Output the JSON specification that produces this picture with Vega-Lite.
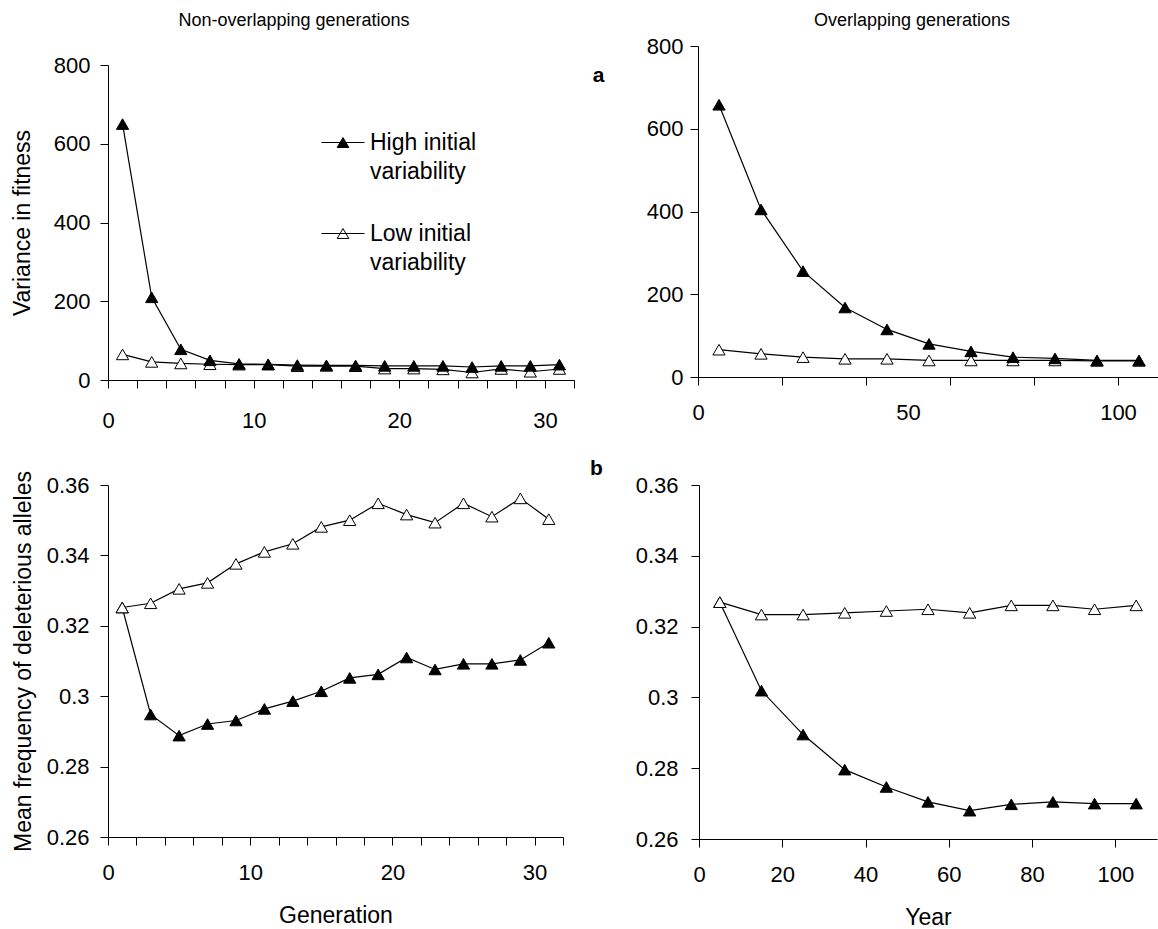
{
  "$schema": "https://vega.github.io/schema/vega-lite/v6.json",
  "background": "white",
  "padding": {"left": 11, "top": 12, "right": 0, "bottom": 0},
  "config": {
    "font": "Liberation Sans",
    "view": {"stroke": null},
    "axis": {
      "grid": false,
      "domainColor": "black",
      "tickColor": "black",
      "labelColor": "black",
      "titleColor": "black",
      "labelFont": "Liberation Sans",
      "titleFont": "Liberation Sans",
      "labelFontSize": 22,
      "titleFontSize": 23,
      "titleFontWeight": "normal",
      "tickSize": 8,
      "domainWidth": 1,
      "tickWidth": 1
    },
    "title": {"fontSize": 18, "fontWeight": "normal", "font": "Liberation Sans", "color": "black"},
    "style": {"guide-label": {"lineHeight": 29}}
  },
  "datasets": {
    "tl": [
      {"x": 1, "value": 65, "series": "Low initial variability"},
      {"x": 3, "value": 46, "series": "Low initial variability"},
      {"x": 5, "value": 42, "series": "Low initial variability"},
      {"x": 7, "value": 40, "series": "Low initial variability"},
      {"x": 9, "value": 39, "series": "Low initial variability"},
      {"x": 11, "value": 39, "series": "Low initial variability"},
      {"x": 13, "value": 35, "series": "Low initial variability"},
      {"x": 15, "value": 36, "series": "Low initial variability"},
      {"x": 17, "value": 35, "series": "Low initial variability"},
      {"x": 19, "value": 29, "series": "Low initial variability"},
      {"x": 21, "value": 29, "series": "Low initial variability"},
      {"x": 23, "value": 27, "series": "Low initial variability"},
      {"x": 25, "value": 19, "series": "Low initial variability"},
      {"x": 27, "value": 28, "series": "Low initial variability"},
      {"x": 29, "value": 21, "series": "Low initial variability"},
      {"x": 31, "value": 28, "series": "Low initial variability"},
      {"x": 1, "value": 650, "series": "High initial variability"},
      {"x": 3, "value": 210, "series": "High initial variability"},
      {"x": 5, "value": 78, "series": "High initial variability"},
      {"x": 7, "value": 50, "series": "High initial variability"},
      {"x": 9, "value": 41, "series": "High initial variability"},
      {"x": 11, "value": 40, "series": "High initial variability"},
      {"x": 13, "value": 38, "series": "High initial variability"},
      {"x": 15, "value": 37, "series": "High initial variability"},
      {"x": 17, "value": 37, "series": "High initial variability"},
      {"x": 19, "value": 36, "series": "High initial variability"},
      {"x": 21, "value": 36, "series": "High initial variability"},
      {"x": 23, "value": 36, "series": "High initial variability"},
      {"x": 25, "value": 33, "series": "High initial variability"},
      {"x": 27, "value": 36, "series": "High initial variability"},
      {"x": 29, "value": 36, "series": "High initial variability"},
      {"x": 31, "value": 39, "series": "High initial variability"}
    ],
    "tr": [
      {"x": 5, "value": 66, "series": "Low initial variability"},
      {"x": 15, "value": 56, "series": "Low initial variability"},
      {"x": 25, "value": 48, "series": "Low initial variability"},
      {"x": 35, "value": 44, "series": "Low initial variability"},
      {"x": 45, "value": 44, "series": "Low initial variability"},
      {"x": 55, "value": 40, "series": "Low initial variability"},
      {"x": 65, "value": 40, "series": "Low initial variability"},
      {"x": 75, "value": 40, "series": "Low initial variability"},
      {"x": 85, "value": 40, "series": "Low initial variability"},
      {"x": 95, "value": 39, "series": "Low initial variability"},
      {"x": 105, "value": 39, "series": "Low initial variability"},
      {"x": 5, "value": 658, "series": "High initial variability"},
      {"x": 15, "value": 405, "series": "High initial variability"},
      {"x": 25, "value": 256, "series": "High initial variability"},
      {"x": 35, "value": 168, "series": "High initial variability"},
      {"x": 45, "value": 115, "series": "High initial variability"},
      {"x": 55, "value": 80, "series": "High initial variability"},
      {"x": 65, "value": 62, "series": "High initial variability"},
      {"x": 75, "value": 48, "series": "High initial variability"},
      {"x": 85, "value": 45, "series": "High initial variability"},
      {"x": 95, "value": 40, "series": "High initial variability"},
      {"x": 105, "value": 40, "series": "High initial variability"}
    ],
    "bl": [
      {"x": 1, "value": 0.3252, "series": "High initial variability"},
      {"x": 3, "value": 0.2948, "series": "High initial variability"},
      {"x": 5, "value": 0.2888, "series": "High initial variability"},
      {"x": 7, "value": 0.2921, "series": "High initial variability"},
      {"x": 9, "value": 0.2931, "series": "High initial variability"},
      {"x": 11, "value": 0.2964, "series": "High initial variability"},
      {"x": 13, "value": 0.2986, "series": "High initial variability"},
      {"x": 15, "value": 0.3014, "series": "High initial variability"},
      {"x": 17, "value": 0.3052, "series": "High initial variability"},
      {"x": 19, "value": 0.3062, "series": "High initial variability"},
      {"x": 21, "value": 0.311, "series": "High initial variability"},
      {"x": 23, "value": 0.3076, "series": "High initial variability"},
      {"x": 25, "value": 0.3092, "series": "High initial variability"},
      {"x": 27, "value": 0.3092, "series": "High initial variability"},
      {"x": 29, "value": 0.3103, "series": "High initial variability"},
      {"x": 31, "value": 0.3152, "series": "High initial variability"},
      {"x": 1, "value": 0.3252, "series": "Low initial variability"},
      {"x": 3, "value": 0.3264, "series": "Low initial variability"},
      {"x": 5, "value": 0.3305, "series": "Low initial variability"},
      {"x": 7, "value": 0.3322, "series": "Low initial variability"},
      {"x": 9, "value": 0.3376, "series": "Low initial variability"},
      {"x": 11, "value": 0.341, "series": "Low initial variability"},
      {"x": 13, "value": 0.3433, "series": "Low initial variability"},
      {"x": 15, "value": 0.3481, "series": "Low initial variability"},
      {"x": 17, "value": 0.35, "series": "Low initial variability"},
      {"x": 19, "value": 0.3548, "series": "Low initial variability"},
      {"x": 21, "value": 0.3516, "series": "Low initial variability"},
      {"x": 23, "value": 0.3493, "series": "Low initial variability"},
      {"x": 25, "value": 0.3548, "series": "Low initial variability"},
      {"x": 27, "value": 0.351, "series": "Low initial variability"},
      {"x": 29, "value": 0.3562, "series": "Low initial variability"},
      {"x": 31, "value": 0.3503, "series": "Low initial variability"}
    ],
    "br": [
      {"x": 5, "value": 0.3269, "series": "High initial variability"},
      {"x": 15, "value": 0.3019, "series": "High initial variability"},
      {"x": 25, "value": 0.2895, "series": "High initial variability"},
      {"x": 35, "value": 0.2796, "series": "High initial variability"},
      {"x": 45, "value": 0.2747, "series": "High initial variability"},
      {"x": 55, "value": 0.2705, "series": "High initial variability"},
      {"x": 65, "value": 0.268, "series": "High initial variability"},
      {"x": 75, "value": 0.2698, "series": "High initial variability"},
      {"x": 85, "value": 0.2705, "series": "High initial variability"},
      {"x": 95, "value": 0.27, "series": "High initial variability"},
      {"x": 105, "value": 0.27, "series": "High initial variability"},
      {"x": 5, "value": 0.3269, "series": "Low initial variability"},
      {"x": 15, "value": 0.3234, "series": "Low initial variability"},
      {"x": 25, "value": 0.3234, "series": "Low initial variability"},
      {"x": 35, "value": 0.3239, "series": "Low initial variability"},
      {"x": 45, "value": 0.3244, "series": "Low initial variability"},
      {"x": 55, "value": 0.3249, "series": "Low initial variability"},
      {"x": 65, "value": 0.3239, "series": "Low initial variability"},
      {"x": 75, "value": 0.326, "series": "Low initial variability"},
      {"x": 85, "value": 0.326, "series": "Low initial variability"},
      {"x": 95, "value": 0.3249, "series": "Low initial variability"},
      {"x": 105, "value": 0.326, "series": "Low initial variability"}
    ]
  },
  "spacing": 26,
  "resolve": {"scale": {"fill": "independent"}, "legend": {"fill": "independent"}},
  "vconcat": [
    {
      "columns": 2,
      "align": "none",
      "spacing": 17,
      "resolve": {"scale": {"fill": "independent"}, "legend": {"fill": "independent"}},
      "concat": [
        {
          "width": 466,
          "height": 334,
          "title": {"text": "Non-overlapping generations", "offset": 16, "dx": -47, "frame": "group"},
          "data": {"name": "tl"},
          "encoding": {
            "x": {
              "field": "x", "type": "quantitative",
              "scale": {"domain": [0, 32], "nice": false, "zero": false},
              "axis": {"values": [0, 2, 4, 6, 8, 10, 12, 14, 16, 18, 20, 22, 24, 26, 28, 30, 32], "labelExpr": "datum.value % 10 === 0 ? datum.label : ''", "labelFlush": false, "labelOverlap": false, "labelPadding": 22, "title": null}
            },
            "y": {
              "field": "value", "type": "quantitative",
              "scale": {"domain": [0, 800], "nice": false, "range": [334, 19]},
              "axis": {"values": [0, 200, 400, 600, 800], "title": "Variance in fitness", "labelPadding": 10, "titlePadding": 19}
            }
          },
          "layer": [
            {"mark": {"type": "line", "color": "black", "strokeWidth": 1.2}, "encoding": {"detail": {"field": "series"}}},
            {
              "mark": {"type": "point", "shape": "triangle-up", "size": 150, "stroke": "black", "strokeWidth": 1, "opacity": 1, "filled": true},
              "encoding": {
                "fill": {
                  "field": "series", "type": "nominal",
                  "scale": {"domain": ["High initial variability", "Low initial variability"], "range": ["black", "white"]},
                  "legend": {
                    "orient": "none", "legendX": 213, "legendY": 74.5, "title": null, "padding": 0,
                    "symbolType": "M-1,0H1M0,-0.23L0.27,0.23L-0.27,0.23Z",
                    "symbolSize": 1849, "symbolStrokeColor": "black", "symbolStrokeWidth": 1,
                    "labelFontSize": 23, "labelOffset": 5, "labelLimit": 400, "rowPadding": 28,
                    "labelExpr": "datum.label === 'High initial variability' ? ['High initial', 'variability'] : ['Low initial', 'variability']"
                  }
                }
              }
            }
          ]
        },
        {
          "width": 462,
          "height": 331,
          "title": {"text": "Overlapping generations", "offset": 5, "dx": -17, "frame": "group"},
          "data": {"name": "tr"},
          "encoding": {
            "y": {
              "field": "value", "type": "quantitative",
              "scale": {"domain": [0, 800], "nice": false},
              "axis": {"values": [0, 200, 400, 600, 800], "title": "a", "titleAngle": 0, "titleX": -100, "titleY": 29, "titleAlign": "center", "titleBaseline": "middle", "titleFontWeight": "bold", "titleFontSize": 21, "labelPadding": 7}
            }
          },
          "resolve": {"axis": {"x": "independent"}},
          "layer": [
            {
              "mark": {"type": "line", "color": "black", "strokeWidth": 1.2},
              "encoding": {
                "x": {"field": "x", "type": "quantitative", "scale": {"domain": [0, 110], "nice": false, "zero": false},
                      "axis": {"values": [0, 20, 40, 60, 80, 100], "labels": false, "title": null, "orient": "bottom"}},
                "detail": {"field": "series"}
              }
            },
            {
              "mark": {"type": "point", "shape": "triangle-up", "size": 150, "stroke": "black", "strokeWidth": 1, "opacity": 1, "filled": true},
              "encoding": {
                "x": {"field": "x", "type": "quantitative",
                      "axis": {"values": [0, 50, 100], "ticks": false, "domain": false, "title": null, "orient": "bottom", "labelPadding": 25, "labelFlush": false}},
                "fill": {
                  "field": "series", "type": "nominal",
                  "scale": {"domain": ["High initial variability", "Low initial variability"], "range": ["black", "white"]},
                  "legend": null
                }
              }
            }
          ]
        }
      ]
    },
    {
      "columns": 2,
      "align": "each",
      "spacing": 25,
      "resolve": {"scale": {"fill": "independent"}, "legend": {"fill": "independent"}},
      "concat": [
        {
          "width": 455,
          "height": 352,
          "data": {"name": "bl"},
          "encoding": {
            "x": {
              "field": "x", "type": "quantitative",
              "scale": {"domain": [0, 32], "nice": false, "zero": false},
              "axis": {"values": [0, 2, 4, 6, 8, 10, 12, 14, 16, 18, 20, 22, 24, 26, 28, 30, 32], "labelExpr": "datum.value % 10 === 0 ? datum.label : ''", "labelFlush": false, "labelOverlap": false, "labelPadding": 17, "title": "Generation", "titlePadding": 21}
            },
            "y": {
              "field": "value", "type": "quantitative",
              "scale": {"domain": [0.26, 0.36], "nice": false, "zero": false},
              "axis": {"values": [0.26, 0.28, 0.3, 0.32, 0.34, 0.36], "format": ".2~f", "title": "Mean frequency of deleterious alleles", "labelPadding": 11, "titlePadding": 11}
            }
          },
          "layer": [
            {"mark": {"type": "line", "color": "black", "strokeWidth": 1.2}, "encoding": {"detail": {"field": "series"}}},
            {
              "mark": {"type": "point", "shape": "triangle-up", "size": 150, "stroke": "black", "strokeWidth": 1, "opacity": 1, "filled": true},
              "encoding": {
                "fill": {
                  "field": "series", "type": "nominal",
                  "scale": {"domain": ["High initial variability", "Low initial variability"], "range": ["black", "white"]},
                  "legend": null
                }
              }
            }
          ]
        },
        {
          "width": 458,
          "height": 354,
          "data": {"name": "br"},
          "encoding": {
            "x": {
              "field": "x", "type": "quantitative",
              "scale": {"domain": [0, 110], "nice": false, "zero": false},
              "axis": {"values": [0, 20, 40, 60, 80, 100], "labelFlush": false, "labelPadding": 17, "title": "Year", "titlePadding": 21}
            },
            "y": {
              "field": "value", "type": "quantitative",
              "scale": {"domain": [0.26, 0.36], "nice": false, "zero": false},
              "axis": {"values": [0.26, 0.28, 0.3, 0.32, 0.34, 0.36], "format": ".2~f", "title": "b", "titleAngle": 0, "titleX": -103, "titleY": -17, "titleAlign": "center", "titleBaseline": "middle", "titleFontWeight": "bold", "titleFontSize": 21, "labelPadding": 13}
            }
          },
          "layer": [
            {"mark": {"type": "line", "color": "black", "strokeWidth": 1.2}, "encoding": {"detail": {"field": "series"}}},
            {
              "mark": {"type": "point", "shape": "triangle-up", "size": 150, "stroke": "black", "strokeWidth": 1, "opacity": 1, "filled": true},
              "encoding": {
                "fill": {
                  "field": "series", "type": "nominal",
                  "scale": {"domain": ["High initial variability", "Low initial variability"], "range": ["black", "white"]},
                  "legend": null
                }
              }
            }
          ]
        }
      ]
    }
  ]
}
